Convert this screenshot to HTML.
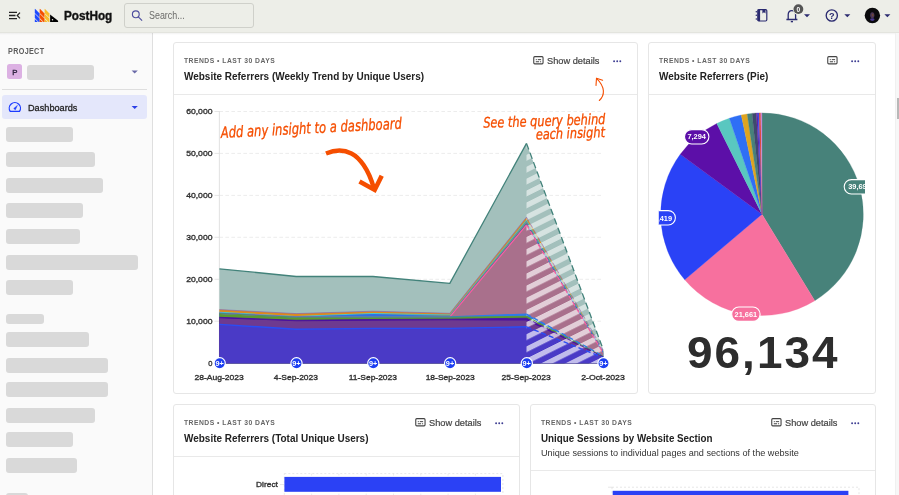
<!DOCTYPE html>
<html><head><meta charset="utf-8"><title>PostHog</title>
<style>
*{box-sizing:border-box;margin:0;padding:0}
html,body{width:899px;height:495px;overflow:hidden;background:#fff;font-family:'Liberation Sans',sans-serif;color:#2d2d2d}
.abs{position:absolute}
.t{position:absolute;white-space:nowrap;line-height:1}
#hdr{left:0;top:0;width:899px;height:33px;background:#edeee8;border-bottom:1px solid #e3e4de;}
#side{left:0;top:33px;width:153px;height:462px;background:#fafafa;border-right:1px solid #dfdfdf}
.bar{position:absolute;left:6px;height:15px;border-radius:3px;background:#d9d9d9}
.card{position:absolute;background:#fff;border:1px solid #e6e6e6;border-radius:3px}
.chd{position:absolute;left:0;right:0;top:0;border-bottom:1px solid #e9e9e9}
svg{position:absolute;overflow:visible}
</style></head><body>

<div id="hdr" class="abs"></div>
<svg style="left:0;top:0" width="899" height="33" viewBox="0 0 899 33">
<g stroke="#222" stroke-width="1.3" fill="none"><path d="M9 12.4h8M9 15.5h6.5M9 18.6h8"/><path d="M20 12.6l-2.8 2.9 2.8 2.9" stroke-width="1.2"/></g>
<defs><clipPath id="lg"><rect x="30" y="8.8" width="30" height="13.1"/></clipPath></defs><g clip-path="url(#lg)"><path d="M34.8 8.60l4.85 4.85v4.35l-4.85-4.85z" fill="#1d4aff"/><path d="M34.8 13.75l4.85 4.85v4.35l-4.85-4.85z" fill="#1d4aff"/><path d="M34.8 18.90l4.85 4.85v4.35l-4.85-4.85z" fill="#1d4aff"/><path d="M39.7 8.60l4.85 4.85v4.35l-4.85-4.85z" fill="#f54e00"/><path d="M39.7 13.75l4.85 4.85v4.35l-4.85-4.85z" fill="#f54e00"/><path d="M39.7 18.90l4.85 4.85v4.35l-4.85-4.85z" fill="#f54e00"/><path d="M44.6 8.60l4.85 4.85v4.35l-4.85-4.85z" fill="#f9bd2b"/><path d="M44.6 13.75l4.85 4.85v4.35l-4.85-4.85z" fill="#f9bd2b"/><path d="M44.6 18.90l4.85 4.85v4.35l-4.85-4.85z" fill="#f9bd2b"/><path d="M50.1 14.5l8 6.3v1.1h-8z" fill="#000"/><circle cx="52.5" cy="19.7" r=".75" fill="#edeee8"/></g>
<rect x="124.5" y="3.5" width="129" height="24" rx="2.5" fill="#edeee8" stroke="#cfd0ca"/>
<g stroke="#4d4d9e" stroke-width="1.15" fill="none"><circle cx="135.8" cy="14.3" r="3.4"/><path d="M138.3 16.9l3.8 3.8"/></g>
<g fill="#2b2b70"><rect x="758" y="9.6" width="8.800" height="11.400" rx="1.200" fill="none" stroke="#2b2b70" stroke-width="1.200"/><rect x="757.400" y="9.300" width="2.700" height="12" rx=".8"/><path d="M762.400 9.300h3.100v4.300l-1.550-1.400-1.550 1.400z"/><circle cx="756.300" cy="11.700" r=".75"/><circle cx="756.300" cy="15.300" r=".75"/><circle cx="756.300" cy="18.900" r=".75"/></g>
<g stroke="#2b2b70" stroke-width="1.3" fill="none" stroke-linejoin="round"><path d="M788.2 19.4v-4.6c0-2.4 1.6-4.2 3.7-4.2s3.7 1.8 3.7 4.2v4.6M786.4 19.5h11"/><path d="M790.8 21.6h2.2" stroke-width="1.4"/></g>
<circle cx="798.4" cy="9.1" r="5.7" fill="#edeee8"/><circle cx="798.4" cy="9.1" r="4.900" fill="#555"/>
<path d="M804 14.2h6l-3 3.1z" fill="#2b2b70"/>
<circle cx="831.8" cy="15.5" r="5.6" fill="none" stroke="#2b2b70" stroke-width="1.35"/>
<path d="M844.3 14.2h6l-3 3.1z" fill="#2b2b70"/>
<circle cx="872.4" cy="15.5" r="7.7" fill="#0a0a0c"/><ellipse cx="872.3" cy="15.200" rx="2.100" ry="2.900" fill="#4a3558"/><ellipse cx="872.700" cy="15" rx="1" ry="1.500" fill="#6a4538"/><ellipse cx="872.300" cy="19.600" rx="2.200" ry="1.300" fill="#4a3a90"/>
<path d="M884.4 14.2h6l-3 3.1z" fill="#2b2b70"/>
</svg>
<div class="t" id="ph" style="left:63.8px;top:10.00px;font-size:12px;font-weight:700;color:#111;transform-origin:0 50%;transform:scaleX(0.9788);-webkit-text-stroke:.35px #111;">PostHog</div>
<div class="t" id="srch" style="left:148.5px;top:10.70px;font-size:10px;font-weight:400;color:#6c6c6a;transform-origin:0 50%;transform:scaleX(0.8918);">Search...</div>
<div class="t" id="zero" style="left:796.5px;top:6.50px;font-size:6.6px;font-weight:700;color:#fff;transform-origin:0 50%;">0</div>
<div class="t" id="q" style="left:829.1px;top:11.90px;font-size:9.2px;font-weight:700;color:#2b2b70;transform-origin:0 50%;">?</div>
<div id="side" class="abs"></div>
<div class="abs" style="left:0;top:33px;width:899px;height:2px;background:linear-gradient(rgba(0,0,0,.05),rgba(0,0,0,0))"></div>
<div class="t" id="proj" style="left:7.5px;top:47.20px;font-size:8.4px;font-weight:700;color:#5c5c5c;transform-origin:0 50%;transform:scaleX(0.8593);letter-spacing:.4px;">PROJECT</div>
<div class="abs" style="left:7.3px;top:64.3px;width:14.7px;height:14.7px;border-radius:2.5px;background:#dcb1e3"></div>
<div class="t" id="pp" style="left:12.3px;top:69.00px;font-size:7.8px;font-weight:400;color:#2e2340;transform-origin:0 50%;-webkit-text-stroke:.35px #2e2340;">P</div>
<div class="bar" style="left:27.3px;top:64.9px;width:66.7px"></div>
<div class="abs" style="left:2px;top:89.2px;width:145px;height:1px;background:#dedede"></div>
<div class="abs" style="left:2px;top:95.2px;width:145.3px;height:24.2px;border-radius:3px;background:#e4e7fb"></div>
<svg style="left:0;top:0" width="160" height="130"><path d="M131.6 70.4h6.2l-3.1 3.1z" fill="#6a6aa8"/><path d="M131.6 106h6.2l-3.1 3.1z" fill="#2b3fe6"/><path d="M10.2 111.4A5.6 5.6 0 1 1 19.500 111.4Z" stroke="#1d3cff" stroke-width="1.25" fill="none" stroke-linejoin="round"/><path d="M13.7 108.5L17.5 105.300 15.300 109.900Z" fill="#1d3cff" stroke="#1d3cff" stroke-width=".4" stroke-linejoin="round"/></svg>
<div class="t" id="dash" style="left:27.8px;top:103.90px;font-size:9px;font-weight:400;color:#1f1f1f;transform-origin:0 50%;transform:scaleX(1.0179);-webkit-text-stroke:.28px #1f1f1f;">Dashboards</div>
<div class="bar" style="top:126.5px;width:66.9px"></div>
<div class="bar" style="top:152.1px;width:89.2px"></div>
<div class="bar" style="top:177.7px;width:96.8px"></div>
<div class="bar" style="top:203.3px;width:77.3px"></div>
<div class="bar" style="top:228.9px;width:74.2px"></div>
<div class="bar" style="top:254.5px;width:131.8px"></div>
<div class="bar" style="top:280.1px;width:66.9px"></div>
<div class="bar" style="top:313.8px;width:37.8px;height:10px"></div>
<div class="bar" style="top:331.9px;width:83px"></div>
<div class="bar" style="top:357.5px;width:102px"></div>
<div class="bar" style="top:381.5px;width:102px"></div>
<div class="bar" style="top:407.5px;width:89px"></div>
<div class="bar" style="top:432.4px;width:66.5px"></div>
<div class="bar" style="top:458.4px;width:70.8px"></div>
<div class="bar" style="top:492.6px;width:22.4px;height:10px"></div>
<div class="abs" style="left:895px;top:33px;width:4px;height:462px;background:#f7f7f7;border-left:1px solid #f0f0f0"></div>
<div class="abs" style="left:897.4px;top:98px;width:2px;height:21px;background:#b8b8b8"></div>
<div class="card" style="left:173px;top:42px;width:465px;height:352px"><div class="chd" style="height:52px"></div></div>
<div class="t" id="m1" style="left:184.2px;top:58.20px;font-size:7.1px;font-weight:700;color:#666;transform-origin:0 50%;transform:scaleX(0.9550);letter-spacing:.5px;">TRENDS • LAST 30 DAYS</div>
<div class="t" id="t1" style="left:184.2px;top:71.90px;font-size:10.2px;font-weight:700;color:#222;transform-origin:0 50%;transform:scaleX(0.9782);">Website Referrers (Weekly Trend by Unique Users)</div>
<svg width="11" height="9" viewBox="0 0 11 9" style="left:532.5px;top:56.35px" shape-rendering="geometricPrecision"><rect x=".75" y=".65" width="9.3" height="7.2" rx="1" fill="none" stroke="#444" stroke-width="1.1"/><path d="M2.8 3.65h1M4.8 3.65h3.300M2.8 5.75h3.300M7.100 5.75h1" stroke="#3a3a3a" stroke-width=".95"/></svg>
<div class="t" id="s1" style="left:546.6px;top:57.20px;font-size:9px;font-weight:400;color:#444;transform-origin:0 50%;transform:scaleX(1.0268);-webkit-text-stroke:.2px #444;">Show details</div>
<svg width="9" height="3" style="left:612.8px;top:59.5px"><circle cx="1.1" cy="1.2" r=".95" fill="#3d3d92"/><circle cx="4.2" cy="1.2" r=".95" fill="#3d3d92"/><circle cx="7.3" cy="1.2" r=".95" fill="#3d3d92"/></svg>
<div class="card" style="left:648px;top:42px;width:228px;height:352px"><div class="chd" style="height:52px"></div></div>
<div class="t" id="m2" style="left:659.2px;top:58.20px;font-size:7.1px;font-weight:700;color:#666;transform-origin:0 50%;transform:scaleX(0.9550);letter-spacing:.5px;">TRENDS • LAST 30 DAYS</div>
<div class="t" id="t2" style="left:659.2px;top:71.90px;font-size:10.2px;font-weight:700;color:#222;transform-origin:0 50%;transform:scaleX(0.9766);">Website Referrers (Pie)</div>
<svg width="11" height="9" viewBox="0 0 11 9" style="left:826.7px;top:56.35px" shape-rendering="geometricPrecision"><rect x=".75" y=".65" width="9.3" height="7.2" rx="1" fill="none" stroke="#444" stroke-width="1.1"/><path d="M2.8 3.65h1M4.8 3.65h3.300M2.8 5.75h3.300M7.100 5.75h1" stroke="#3a3a3a" stroke-width=".95"/></svg>
<svg width="9" height="3" style="left:850.8px;top:59.5px"><circle cx="1.1" cy="1.2" r=".95" fill="#3d3d92"/><circle cx="4.2" cy="1.2" r=".95" fill="#3d3d92"/><circle cx="7.3" cy="1.2" r=".95" fill="#3d3d92"/></svg>
<div class="card" style="left:173px;top:404px;width:347px;height:120px"><div class="chd" style="height:52px"></div></div>
<div class="t" id="m3" style="left:184.2px;top:420.20px;font-size:7.1px;font-weight:700;color:#666;transform-origin:0 50%;transform:scaleX(0.9550);letter-spacing:.5px;">TRENDS • LAST 30 DAYS</div>
<div class="t" id="t3" style="left:184.2px;top:433.90px;font-size:10.2px;font-weight:700;color:#222;transform-origin:0 50%;transform:scaleX(0.9776);">Website Referrers (Total Unique Users)</div>
<svg width="11" height="9" viewBox="0 0 11 9" style="left:414.5px;top:418.35px" shape-rendering="geometricPrecision"><rect x=".75" y=".65" width="9.3" height="7.2" rx="1" fill="none" stroke="#444" stroke-width="1.1"/><path d="M2.8 3.65h1M4.8 3.65h3.300M2.8 5.75h3.300M7.100 5.75h1" stroke="#3a3a3a" stroke-width=".95"/></svg>
<div class="t" id="s3" style="left:428.6px;top:419.20px;font-size:9px;font-weight:400;color:#444;transform-origin:0 50%;transform:scaleX(1.0268);-webkit-text-stroke:.2px #444;">Show details</div>
<svg width="9" height="3" style="left:494.8px;top:421.5px"><circle cx="1.1" cy="1.2" r=".95" fill="#3d3d92"/><circle cx="4.2" cy="1.2" r=".95" fill="#3d3d92"/><circle cx="7.3" cy="1.2" r=".95" fill="#3d3d92"/></svg>
<div class="card" style="left:529.5px;top:404px;width:346.5px;height:120px"><div class="chd" style="height:66px"></div></div>
<div class="t" id="m4" style="left:540.7px;top:420.20px;font-size:7.1px;font-weight:700;color:#666;transform-origin:0 50%;transform:scaleX(0.9550);letter-spacing:.5px;">TRENDS • LAST 30 DAYS</div>
<div class="t" id="t4" style="left:540.7px;top:433.90px;font-size:10.2px;font-weight:700;color:#222;transform-origin:0 50%;transform:scaleX(0.9627);">Unique Sessions by Website Section</div>
<div class="t" id="d4" style="left:540.7px;top:449.10px;font-size:8.8px;font-weight:400;color:#333;transform-origin:0 50%;transform:scaleX(1.0377);">Unique sessions to individual pages and sections of the website</div>
<svg width="11" height="9" viewBox="0 0 11 9" style="left:770.5px;top:418.35px" shape-rendering="geometricPrecision"><rect x=".75" y=".65" width="9.3" height="7.2" rx="1" fill="none" stroke="#444" stroke-width="1.1"/><path d="M2.8 3.65h1M4.8 3.65h3.300M2.8 5.75h3.300M7.100 5.75h1" stroke="#3a3a3a" stroke-width=".95"/></svg>
<div class="t" id="s4" style="left:784.6px;top:419.20px;font-size:9px;font-weight:400;color:#444;transform-origin:0 50%;transform:scaleX(1.0268);-webkit-text-stroke:.2px #444;">Show details</div>
<svg width="9" height="3" style="left:850.8px;top:421.5px"><circle cx="1.1" cy="1.2" r=".95" fill="#3d3d92"/><circle cx="4.2" cy="1.2" r=".95" fill="#3d3d92"/><circle cx="7.3" cy="1.2" r=".95" fill="#3d3d92"/></svg>
<svg style="left:0;top:0" width="899" height="495" viewBox="0 0 899 495"><defs><pattern id="hatch" x="0" y="2.5" width="20" height="12.15" patternUnits="userSpaceOnUse" patternTransform="skewY(-26.6)"><rect x="0" y="0" width="20" height="5.9" fill="#fff" fill-opacity=".66"/></pattern><pattern id="hatchT" x="0" y="2.0" width="20" height="11.9" patternUnits="userSpaceOnUse" patternTransform="skewY(-26.6)"><rect x="0" y="0" width="20" height="5.9" fill="#fff" fill-opacity=".55"/></pattern></defs><path d="M219.4 363.2H603.4" stroke="#e7e7e7" stroke-width=".8" stroke-dasharray="3.6 2.4"/><path d="M214.5 363.2H219.4" stroke="#dedede" stroke-width=".8"/><path d="M219.4 321.2H603.4" stroke="#e7e7e7" stroke-width=".8" stroke-dasharray="3.6 2.4"/><path d="M214.5 321.2H219.4" stroke="#dedede" stroke-width=".8"/><path d="M219.4 279.3H603.4" stroke="#e7e7e7" stroke-width=".8" stroke-dasharray="3.6 2.4"/><path d="M214.5 279.3H219.4" stroke="#dedede" stroke-width=".8"/><path d="M219.4 237.3H603.4" stroke="#e7e7e7" stroke-width=".8" stroke-dasharray="3.6 2.4"/><path d="M214.5 237.3H219.4" stroke="#dedede" stroke-width=".8"/><path d="M219.4 195.4H603.4" stroke="#e7e7e7" stroke-width=".8" stroke-dasharray="3.6 2.4"/><path d="M214.5 195.4H219.4" stroke="#dedede" stroke-width=".8"/><path d="M219.4 153.4H603.4" stroke="#e7e7e7" stroke-width=".8" stroke-dasharray="3.6 2.4"/><path d="M214.5 153.4H219.4" stroke="#dedede" stroke-width=".8"/><path d="M219.4 111.5H603.4" stroke="#e7e7e7" stroke-width=".8" stroke-dasharray="3.6 2.4"/><path d="M214.5 111.5H219.4" stroke="#dedede" stroke-width=".8"/><path d="M219.4 111V363" stroke="#dedede" stroke-width=".9"/><polygon points="219.4,268.8 296.2,276.5 373.0,276.5 449.8,283.4 526.5,143.4 603.2,349.5 603.2,363.2 219.4,363.2" fill="#a3c0bc"/><polygon points="219.4,309.6 296.2,313.6 373.0,311.2 449.8,313.3 526.5,217.2 603.2,350.2 603.2,363.2 219.4,363.2" fill="#e08a1a"/><polygon points="219.4,311.8 296.2,316.0 373.0,313.0 449.8,314.6 526.5,219.5 603.2,351.0 603.2,363.2 219.4,363.2" fill="#45c8d0"/><polygon points="219.4,312.9 296.2,316.7 373.0,313.9 449.8,315.1 526.5,220.5 603.2,351.3 603.2,363.2 219.4,363.2" fill="#6a958f"/><polygon points="219.4,313.0 296.2,316.8 373.0,314.0 449.8,316.2 526.5,223.6 603.2,351.6 603.2,363.2 219.4,363.2" fill="#2f6fe8"/><polygon points="219.4,313.3 296.2,317.0 373.0,316.9 449.8,316.9 526.5,224.8 603.2,353.0 603.2,363.2 219.4,363.2" fill="#a9708c"/><polygon points="219.4,313.4 296.2,317.1 373.0,317.0 449.8,317.0 526.5,314.1 603.2,356.0 603.2,363.2 219.4,363.2" fill="#2f7be8"/><polygon points="219.4,313.6 296.2,317.3 373.0,317.2 449.8,317.2 526.5,316.3 603.2,356.4 603.2,363.2 219.4,363.2" fill="#5a9a30"/><polygon points="219.4,317.3 296.2,320.3 373.0,319.5 449.8,319.2 526.5,318.2 603.2,356.8 603.2,363.2 219.4,363.2" fill="#4b10a0"/><polygon points="219.4,318.2 296.2,321.2 373.0,320.7 449.8,320.3 526.5,320.4 603.2,357.0 603.2,363.2 219.4,363.2" fill="#6e3a90"/><polygon points="219.4,324.4 296.2,329.2 373.0,328.4 449.8,328.4 526.5,326.8 603.2,357.6 603.2,363.2 219.4,363.2" fill="#4a3ac6"/><polygon points="526.5,143.4 603.2,349.5 603.2,353.0 526.5,224.8" fill="url(#hatchT)"/><polygon points="526.5,224.8 603.2,353.0 603.2,363.2 526.5,363.2" fill="url(#hatch)"/><polyline points="219.4,268.8 296.2,276.5 373.0,276.5 449.8,283.4 526.5,143.4" fill="none" stroke="#42827a" stroke-width="1.3" stroke-linejoin="round"/><path d="M526.5 143.4L603.2 349.5" fill="none" stroke="#42827a" stroke-width="1.3" stroke-dasharray="6.5 3.5"/><polyline points="219.4,309.6 296.2,313.6 373.0,311.2 449.8,313.3 526.5,217.2" fill="none" stroke="#7d5fc0" stroke-width="0.6" stroke-linejoin="round"/><path d="M526.5 217.2L603.2 350.2" fill="none" stroke="#7d5fc0" stroke-width="0.6" stroke-dasharray="4.5 3"/><polyline points="219.4,313.2 296.2,316.9 373.0,316.8 449.8,316.6 526.5,223.8" fill="none" stroke="#3a2a7a" stroke-width="0.5" stroke-linejoin="round"/><path d="M526.5 223.8L603.2 352.4" fill="none" stroke="#3a2a7a" stroke-width="0.5" stroke-dasharray="4.5 3"/><polyline points="219.4,313.3 296.2,317.0 373.0,316.9 449.8,316.9 526.5,224.8" fill="none" stroke="#ff5fa0" stroke-width="1.2" stroke-linejoin="round"/><path d="M526.5 224.8L603.2 353.0" fill="none" stroke="#ff5fa0" stroke-width="1.2" stroke-dasharray="4.5 3"/><polyline points="219.4,313.4 296.2,317.1 373.0,317.0 449.8,317.0 526.5,314.1" fill="none" stroke="#2f7be8" stroke-width="1.3" stroke-linejoin="round"/><path d="M526.5 314.1L603.2 356.0" fill="none" stroke="#2f7be8" stroke-width="1.3" stroke-dasharray="5 3"/><polyline points="219.4,313.6 296.2,317.3 373.0,317.2 449.8,317.2 526.5,316.3" fill="none" stroke="#5a9a30" stroke-width="0.8" stroke-linejoin="round"/><path d="M526.5 316.3L603.2 356.4" fill="none" stroke="#5a9a30" stroke-width="0.8" stroke-dasharray="4.5 3"/><polyline points="219.4,317.3 296.2,320.3 373.0,319.5 449.8,319.2 526.5,318.2" fill="none" stroke="#4b10a0" stroke-width="0.9" stroke-linejoin="round"/><path d="M526.5 318.2L603.2 356.8" fill="none" stroke="#4b10a0" stroke-width="0.9" stroke-dasharray="4.5 3"/><polyline points="219.4,324.4 296.2,329.2 373.0,328.4 449.8,328.4 526.5,326.8" fill="none" stroke="#2a4cf5" stroke-width="1.4" stroke-linejoin="round"/><path d="M526.5 326.8L603.2 357.6" fill="none" stroke="#2a4cf5" stroke-width="1.4" stroke-dasharray="5 3"/><circle cx="219.70000000000002" cy="363.3" r="5.6" fill="#1d3ff2" stroke="#fff" stroke-width="1.2"/><circle cx="296.5" cy="363.3" r="5.6" fill="#1d3ff2" stroke="#fff" stroke-width="1.2"/><circle cx="373.3" cy="363.3" r="5.6" fill="#1d3ff2" stroke="#fff" stroke-width="1.2"/><circle cx="450.1" cy="363.3" r="5.6" fill="#1d3ff2" stroke="#fff" stroke-width="1.2"/><circle cx="526.8" cy="363.3" r="5.6" fill="#1d3ff2" stroke="#fff" stroke-width="1.2"/><circle cx="603.5" cy="363.3" r="5.6" fill="#1d3ff2" stroke="#fff" stroke-width="1.2"/><path d="M326 153.5C334 150.2 343.500 149.500 351.400 153.400S368.500 169 373.800 188" fill="none" stroke="#f54e00" stroke-width="4.500"/><path d="M359.500 181.500L374.700 189.900 381.700 175.700" fill="none" stroke="#f54e00" stroke-width="4.600" stroke-linejoin="miter"/><path d="M599.3 100.5c5.6-5 6.2-13.500-2.8-22.200" fill="none" stroke="#f54e00" stroke-width="1.1" stroke-linecap="round"/><path d="M596 85.4l.5-7.100 6.100 2" fill="none" stroke="#f54e00" stroke-width="1.1" stroke-linecap="round" stroke-linejoin="round"/></svg>
<div class="t" style="left:69.60px;width:300px;text-align:center;top:360.00px;font-size:7.3px;font-weight:700;color:#fff;"><span id="b0" style="display:inline-block;">9+</span></div>
<div class="t" style="left:146.40px;width:300px;text-align:center;top:360.00px;font-size:7.3px;font-weight:700;color:#fff;"><span id="b1" style="display:inline-block;">9+</span></div>
<div class="t" style="left:223.20px;width:300px;text-align:center;top:360.00px;font-size:7.3px;font-weight:700;color:#fff;"><span id="b2" style="display:inline-block;">9+</span></div>
<div class="t" style="left:300.00px;width:300px;text-align:center;top:360.00px;font-size:7.3px;font-weight:700;color:#fff;"><span id="b3" style="display:inline-block;">9+</span></div>
<div class="t" style="left:376.70px;width:300px;text-align:center;top:360.00px;font-size:7.3px;font-weight:700;color:#fff;"><span id="b4" style="display:inline-block;">9+</span></div>
<div class="t" style="left:453.40px;width:300px;text-align:center;top:360.00px;font-size:7.3px;font-weight:700;color:#fff;"><span id="b5" style="display:inline-block;">9+</span></div>
<div class="t" id="y0" style="right:686.80px;top:360.00px;font-size:8px;font-weight:400;color:#333;transform-origin:100% 50%;transform:scaleX(0.9432);-webkit-text-stroke:.35px #333;">0</div>
<div class="t" id="y1" style="right:686.80px;top:318.05px;font-size:8px;font-weight:400;color:#333;transform-origin:100% 50%;transform:scaleX(1.0748);-webkit-text-stroke:.35px #333;">10,000</div>
<div class="t" id="y2" style="right:686.80px;top:276.10px;font-size:8px;font-weight:400;color:#333;transform-origin:100% 50%;transform:scaleX(1.0748);-webkit-text-stroke:.35px #333;">20,000</div>
<div class="t" id="y3" style="right:686.80px;top:234.15px;font-size:8px;font-weight:400;color:#333;transform-origin:100% 50%;transform:scaleX(1.0748);-webkit-text-stroke:.35px #333;">30,000</div>
<div class="t" id="y4" style="right:686.80px;top:192.20px;font-size:8px;font-weight:400;color:#333;transform-origin:100% 50%;transform:scaleX(1.0748);-webkit-text-stroke:.35px #333;">40,000</div>
<div class="t" id="y5" style="right:686.80px;top:150.25px;font-size:8px;font-weight:400;color:#333;transform-origin:100% 50%;transform:scaleX(1.0748);-webkit-text-stroke:.35px #333;">50,000</div>
<div class="t" id="y6" style="right:686.80px;top:108.30px;font-size:8px;font-weight:400;color:#333;transform-origin:100% 50%;transform:scaleX(1.0748);-webkit-text-stroke:.35px #333;">60,000</div>
<div class="t" style="left:69.40px;width:300px;text-align:center;top:373.70px;font-size:8px;font-weight:400;color:#333;-webkit-text-stroke:.35px #333;"><span id="x0" style="display:inline-block;transform:scaleX(1.0656);">28-Aug-2023</span></div>
<div class="t" style="left:146.20px;width:300px;text-align:center;top:373.70px;font-size:8px;font-weight:400;color:#333;-webkit-text-stroke:.35px #333;"><span id="x1" style="display:inline-block;transform:scaleX(1.0547);">4-Sep-2023</span></div>
<div class="t" style="left:223.00px;width:300px;text-align:center;top:373.70px;font-size:8px;font-weight:400;color:#333;-webkit-text-stroke:.35px #333;"><span id="x2" style="display:inline-block;transform:scaleX(1.0575);">11-Sep-2023</span></div>
<div class="t" style="left:299.80px;width:300px;text-align:center;top:373.70px;font-size:8px;font-weight:400;color:#333;-webkit-text-stroke:.35px #333;"><span id="x3" style="display:inline-block;transform:scaleX(1.0591);">18-Sep-2023</span></div>
<div class="t" style="left:376.50px;width:300px;text-align:center;top:373.70px;font-size:8px;font-weight:400;color:#333;-webkit-text-stroke:.35px #333;"><span id="x4" style="display:inline-block;transform:scaleX(1.0656);">25-Sep-2023</span></div>
<div class="t" style="left:453.20px;width:300px;text-align:center;top:373.70px;font-size:8px;font-weight:400;color:#333;-webkit-text-stroke:.35px #333;"><span id="x5" style="display:inline-block;transform:scaleX(1.0891);">2-Oct-2023</span></div>
<div class="t" id="hw1" style="left:221px;top:126.40px;font-family:'DejaVu Sans Condensed','DejaVu Sans',sans-serif;font-style:italic;font-size:15.6px;color:#f54e00;-webkit-text-stroke:.3px #f54e00;transform-origin:0 12px;transform:rotate(-2.96deg) scaleX(0.8243)">Add any insight to a dashboard</div>
<div class="t" id="hw2" style="right:293.50px;top:111.70px;font-family:'DejaVu Sans Condensed','DejaVu Sans',sans-serif;font-style:italic;font-size:14.6px;color:#f54e00;-webkit-text-stroke:.3px #f54e00;transform-origin:100% 12px;transform:rotate(-1.8deg) scaleX(0.8635)">See the query behind</div>
<div class="t" id="hw3" style="right:293.50px;top:124.70px;font-family:'DejaVu Sans Condensed','DejaVu Sans',sans-serif;font-style:italic;font-size:14.6px;color:#f54e00;-webkit-text-stroke:.3px #f54e00;transform-origin:100% 12px;transform:rotate(-2deg) scaleX(0.8642)">each insight</div>
<svg style="left:0;top:0" width="899" height="495" viewBox="0 0 899 495"><defs><clipPath id="pc"><rect x="658.8" y="100" width="206.2" height="230"/></clipPath></defs><g clip-path="url(#pc)"><path d="M762 214.2L762.00 112.90A101.3 101.3 0 0 1 814.78 300.66Z" fill="#47827a" stroke="#47827a" stroke-width=".3"/><path d="M762 214.2L814.78 300.66A101.3 101.3 0 0 1 684.74 279.72Z" fill="#f7709e" stroke="#f7709e" stroke-width=".3"/><path d="M762 214.2L684.74 279.72A101.3 101.3 0 0 1 680.25 154.37Z" fill="#2a42f6" stroke="#2a42f6" stroke-width=".3"/><path d="M762 214.2L680.25 154.37A101.3 101.3 0 0 1 716.80 123.54Z" fill="#5c0fa8" stroke="#5c0fa8" stroke-width=".3"/><path d="M762 214.2L716.80 123.54A101.3 101.3 0 0 1 729.35 118.30Z" fill="#59c7c0" stroke="#59c7c0" stroke-width=".3"/><path d="M762 214.2L729.35 118.30A101.3 101.3 0 0 1 741.28 115.04Z" fill="#2f6ff5" stroke="#2f6ff5" stroke-width=".3"/><path d="M762 214.2L741.28 115.04A101.3 101.3 0 0 1 747.20 113.99Z" fill="#dfa420" stroke="#dfa420" stroke-width=".3"/><path d="M762 214.2L747.20 113.99A101.3 101.3 0 0 1 752.11 113.38Z" fill="#47827a" stroke="#47827a" stroke-width=".3"/><path d="M762 214.2L752.11 113.38A101.3 101.3 0 0 1 756.35 113.06Z" fill="#3e4a6e" stroke="#3e4a6e" stroke-width=".3"/><path d="M762 214.2L756.35 113.06A101.3 101.3 0 0 1 757.76 112.99Z" fill="#621da6" stroke="#621da6" stroke-width=".3"/><path d="M762 214.2L757.76 112.99A101.3 101.3 0 0 1 759.17 112.94Z" fill="#2f4cf0" stroke="#2f4cf0" stroke-width=".3"/><path d="M762 214.2L759.17 112.94A101.3 101.3 0 0 1 760.76 112.91Z" fill="#e0402a" stroke="#e0402a" stroke-width=".3"/><path d="M762 214.2L760.76 112.91A101.3 101.3 0 0 1 762.00 112.90Z" fill="#c78bd4" stroke="#c78bd4" stroke-width=".3"/><rect x="844.2" y="179.6" width="30.6" height="14.4" rx="7.2" fill="#47827a" stroke="#fff" stroke-width="1.1"/><text x="859.5" y="189.4" font-size="7.4" font-weight="700" fill="#fff" text-anchor="middle" font-family="'Liberation Sans',sans-serif">39,690</text><rect x="731.7" y="307.0" width="28.4" height="14.4" rx="7.2" fill="#f7709e" stroke="#fff" stroke-width="1.1"/><text x="745.9" y="316.9" font-size="7.4" font-weight="700" fill="#fff" text-anchor="middle" font-family="'Liberation Sans',sans-serif">21,661</text><rect x="646.2" y="210.6" width="29.2" height="14.4" rx="7.2" fill="#2a42f6" stroke="#fff" stroke-width="1.1"/><text x="660.8" y="220.5" font-size="7.4" font-weight="700" fill="#fff" text-anchor="middle" font-family="'Liberation Sans',sans-serif">20,419</text><rect x="684.5" y="129.6" width="24.4" height="14.4" rx="7.2" fill="#5c0fa8" stroke="#fff" stroke-width="1.1"/><text x="696.7" y="139.4" font-size="7.4" font-weight="700" fill="#fff" text-anchor="middle" font-family="'Liberation Sans',sans-serif">7,294</text></g></svg>
<div class="t" id="big" style="left:686.8px;top:330.30px;font-size:45px;font-weight:700;color:#2d2d2d;transform-origin:0 50%;transform:scaleX(1.0198);letter-spacing:2px;">96,134</div>
<svg style="left:0;top:0" width="899" height="495" viewBox="0 0 899 495">
<rect x="284.3" y="473.6" width="218.6" height="30" fill="none" stroke="#ddd" stroke-width=".7" stroke-dasharray="2 2"/>
<path d="M311.6 473.6V500" stroke="#e4e4e4" stroke-width=".7" stroke-dasharray="2 2"/>
<path d="M338.9 473.6V500" stroke="#e4e4e4" stroke-width=".7" stroke-dasharray="2 2"/>
<path d="M366.2 473.6V500" stroke="#e4e4e4" stroke-width=".7" stroke-dasharray="2 2"/>
<path d="M393.5 473.6V500" stroke="#e4e4e4" stroke-width=".7" stroke-dasharray="2 2"/>
<path d="M420.8 473.6V500" stroke="#e4e4e4" stroke-width=".7" stroke-dasharray="2 2"/>
<path d="M448.1 473.6V500" stroke="#e4e4e4" stroke-width=".7" stroke-dasharray="2 2"/>
<path d="M475.4 473.6V500" stroke="#e4e4e4" stroke-width=".7" stroke-dasharray="2 2"/>
<path d="M280 484.5H284.3M608 487.2H612" stroke="#ddd" stroke-width=".7"/>
<rect x="284.4" y="476.9" width="216.6" height="14.9" fill="#2b41f5"/>
<rect x="612" y="487.2" width="247" height="20" fill="none" stroke="#ddd" stroke-width=".7" stroke-dasharray="2 2"/>
<rect x="612.7" y="490.8" width="235.7" height="10" fill="#2b41f5"/>
</svg>
<div class="t" id="dir" style="right:621.60px;top:481.40px;font-size:8px;font-weight:400;color:#333;transform-origin:100% 50%;transform:scaleX(1.0435);-webkit-text-stroke:.35px #333;">Direct</div>
</body></html>
